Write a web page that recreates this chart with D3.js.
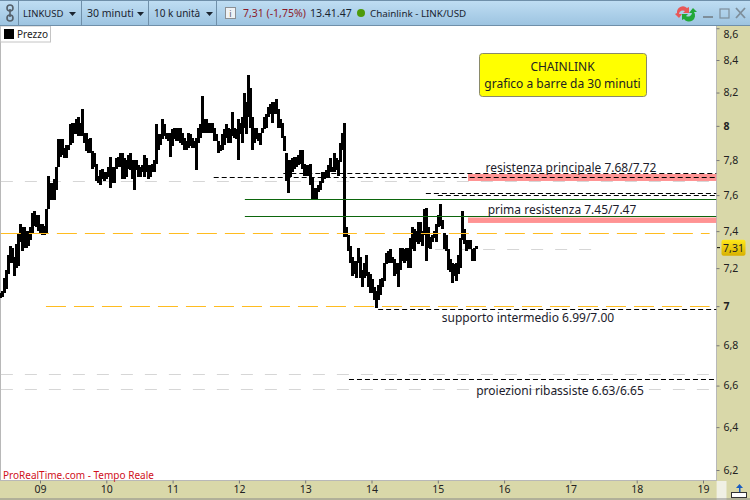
<!DOCTYPE html>
<html><head><meta charset="utf-8">
<style>html,body{margin:0;padding:0;background:#fff;overflow:hidden}svg{display:block}text{font-family:"Noto Sans","Open Sans",sans-serif}</style>
<script src="https://cdn.jsdelivr.net/npm/d3@7"></script></head><body>
<div id="c"></div>
<script>
const highs=[7.07,7.08,7.15,7.19,7.27,7.32,7.31,7.26,7.33,7.39,7.44,7.42,7.42,7.40,7.40,7.42,7.50,7.51,7.49,7.49,7.44,7.44,7.43,7.52,7.71,7.67,7.67,7.69,7.76,7.92,7.92,7.92,7.87,7.89,7.89,8.01,8.02,8.02,8.04,8.05,8.02,8.10,7.96,7.96,7.92,7.93,7.85,7.84,7.78,7.71,7.74,7.75,7.73,7.73,7.76,7.82,7.76,7.76,7.81,7.82,
7.84,7.84,7.81,7.80,7.83,7.84,7.80,7.80,7.80,7.77,7.76,7.77,7.83,7.81,7.77,7.77,7.78,7.80,8.01,7.95,7.95,8.04,8.01,7.96,7.96,7.96,7.98,7.99,7.99,7.99,7.99,7.96,7.93,7.91,7.96,7.95,7.93,7.91,7.93,7.99,8.01,8.18,8.04,8.04,8.02,8.02,8.02,7.99,7.95,7.91,7.89,7.95,7.98,8.01,7.99,7.98,8.08,7.99,7.98,8.04,
8.02,8.05,8.20,8.14,8.31,8.23,8.05,7.99,7.99,7.96,7.96,7.99,8.05,8.07,8.11,8.13,8.14,8.14,8.16,8.10,8.04,8.02,7.94,7.84,7.80,7.80,7.81,7.82,7.82,7.83,7.86,7.86,7.78,7.77,7.77,7.78,7.70,7.64,7.64,7.66,7.68,7.73,7.73,7.74,7.77,7.81,7.76,7.84,7.81,7.80,7.90,7.96,8.02,7.42,7.38,7.32,7.26,7.24,7.24,7.31,
7.26,7.19,7.23,7.27,7.18,7.17,7.14,7.10,7.08,7.11,7.14,7.15,7.23,7.28,7.29,7.30,7.26,7.25,7.23,7.23,7.31,7.31,7.30,7.31,7.31,7.36,7.42,7.41,7.40,7.45,7.45,7.40,7.52,7.53,7.42,7.37,7.38,7.40,7.44,7.49,7.55,7.46,7.39,7.38,7.30,7.25,7.23,7.22,7.23,7.27,7.36,7.51,7.41,7.35,7.35,7.35,7.30,7.31,7.32];
const lows=[7.04,7.05,7.07,7.09,7.17,7.23,7.23,7.16,7.20,7.21,7.34,7.29,7.31,7.31,7.32,7.35,7.39,7.43,7.42,7.40,7.39,7.38,7.38,7.39,7.52,7.57,7.57,7.57,7.63,7.76,7.82,7.83,7.81,7.81,7.86,7.89,7.90,7.95,7.95,7.94,7.94,7.94,7.90,7.85,7.84,7.84,7.75,7.76,7.68,7.67,7.66,7.69,7.68,7.69,7.70,7.64,7.67,7.67,7.75,7.76,
7.76,7.69,7.69,7.70,7.75,7.74,7.69,7.63,7.74,7.70,7.70,7.73,7.70,7.73,7.69,7.70,7.73,7.73,7.78,7.86,7.89,7.92,7.94,7.92,7.91,7.82,7.88,7.92,7.91,7.91,7.90,7.89,7.86,7.86,7.87,7.88,7.87,7.87,7.74,7.90,7.93,7.96,7.96,7.96,7.96,7.96,7.96,7.91,7.91,7.84,7.85,7.86,7.89,7.93,7.90,7.90,7.94,7.93,7.92,7.80,
7.95,7.90,7.99,7.95,8.05,7.99,7.86,7.90,7.92,7.91,7.89,7.96,7.98,7.99,8.05,8.07,8.02,8.07,8.07,7.99,7.99,7.93,7.85,7.68,7.61,7.70,7.73,7.75,7.76,7.77,7.78,7.75,7.71,7.71,7.71,7.66,7.57,7.58,7.57,7.62,7.63,7.67,7.69,7.70,7.70,7.73,7.73,7.73,7.74,7.71,7.79,7.86,7.37,7.37,7.29,7.23,7.16,7.17,7.15,7.23,
7.15,7.10,7.15,7.16,7.10,7.07,7.07,7.03,6.99,7.03,7.06,7.10,7.13,7.22,7.23,7.23,7.23,7.16,7.17,7.10,7.19,7.24,7.23,7.24,7.20,7.20,7.30,7.29,7.34,7.33,7.34,7.32,7.38,7.24,7.31,7.30,7.34,7.36,7.34,7.42,7.43,7.41,7.30,7.29,7.19,7.18,7.12,7.16,7.13,7.17,7.20,7.35,7.33,7.29,7.30,7.30,7.24,7.24,7.30];
const firstBarDay=8.404, barStepDays=0.03017;
const yTicks=[8.6,8.4,8.2,8,7.8,7.6,7.4,7.2,7,6.8,6.6,6.4,6.2];
const xTicks=[9,10,11,12,13,14,15,16,17,18,19];
const lastPrice=7.31;
const zones=[[7.68,7.72,15.455],[7.445,7.475,15.455]];
const greyPrices=[7.678,7.30,6.655,6.581], greyFrom=[8.41,14.96,8.41,8.41], greyTo=[19.1,17.37,19.1,19.1];
const greenPrices=[7.578,7.478], greenFrom=[12.09,12.09];
const blackPrices=[7.72,7.697,7.611,7.60,6.985,6.63], blackFrom=[12.67,11.62,14.82,15.0,14.10,13.66];
const orangePrices=[7.385,7.0], orangeFrom=[8.41,9.09];
const notes=[["resistenza principale 7.68/7.72",571,167],["prima resistenza 7.45/7.47",562,209],["supporto intermedio 6.99/7.00",528,317],["proiezioni ribassiste 6.63/6.65",560,390]];

const W=750,H=500,plotR=716.5,plotB=480.5,plotT=26;
const svg=d3.select("#c").append("svg").attr("width",W).attr("height",H);
const defs=svg.append("defs");
const g1=defs.append("linearGradient").attr("id","bar").attr("x1",0).attr("x2",0).attr("y1",0).attr("y2",1);
g1.append("stop").attr("offset",0).attr("stop-color","#c0def3");g1.append("stop").attr("offset",1).attr("stop-color","#9dc4e1");
const g2=defs.append("linearGradient").attr("id","tag").attr("x1",0).attr("x2",0).attr("y1",0).attr("y2",1);
g2.append("stop").attr("offset",0).attr("stop-color","#ffe81a");g2.append("stop").attr("offset",1).attr("stop-color","#d8b000");
defs.append("clipPath").attr("id","pl").append("rect").attr("x",0).attr("y",plotT).attr("width",plotR).attr("height",plotB-plotT);

const x=d3.scaleLinear().domain([9,19]).range([40,703]);
const y=d3.scaleLog().domain([6.2,8.4]).range([470,60]);
const snap=v=>Math.floor(v)+0.5;

// panels
svg.append("rect").attr("x",plotR).attr("y",26).attr("width",W-plotR).attr("height",H-26).attr("fill","#d9d8a9");
svg.append("rect").attr("x",0).attr("y",plotB).attr("width",plotR).attr("height",H-plotB).attr("fill","#d9d8a9");
svg.append("rect").attr("x",717).attr("y",481).attr("width",9.5).attr("height",19).attr("fill","#f0f0e4");
svg.append("line").attr("x1",0).attr("x2",717).attr("y1",480.5).attr("y2",480.5).attr("stroke","#b8b8b8");
svg.append("line").attr("x1",0).attr("x2",750).attr("y1",499).attr("y2",499).attr("stroke","#888");
svg.append("line").attr("x1",716.5).attr("x2",716.5).attr("y1",26).attr("y2",481).attr("stroke","#b8b8b8");
svg.append("line").attr("x1",0.5).attr("x2",0.5).attr("y1",26).attr("y2",481).attr("stroke","#b8b8b8");

const plot=svg.append("g").attr("clip-path","url(#pl)");
plot.selectAll("rect.zone").data(zones).join("rect").attr("class","zone")
 .attr("x",d=>x(d[2])).attr("width",d=>plotR-x(d[2])).attr("y",d=>y(d[1])).attr("height",d=>y(d[0])-y(d[1])).attr("fill","#ff9393");
function levels(prices,from,to,color,dash,w){
 plot.append("g").selectAll("line").data(prices).join("line")
  .attr("x1",(d,i)=>x(from[i])).attr("x2",(d,i)=>to?x(to[i]):plotR)
  .attr("y1",d=>snap(y(d))).attr("y2",d=>snap(y(d))).attr("stroke",color).attr("stroke-width",w||1)
  .attr("stroke-dasharray",dash);
}
levels(greyPrices,greyFrom,greyTo,"#d6d6d6","12,12");
levels(blackPrices,blackFrom,null,"#000","5,3");
plot.append("g").selectAll("line").data(highs).join("line")
 .attr("x1",(d,i)=>x(firstBarDay+i*barStepDays)).attr("x2",(d,i)=>x(firstBarDay+i*barStepDays))
 .attr("y1",d=>y(d)).attr("y2",(d,i)=>y(lows[i])).attr("stroke","#000").attr("stroke-width",3).attr("shape-rendering","crispEdges");
levels(greenPrices,greenFrom,null,"#0c660c");
levels(orangePrices,orangeFrom,[19.1,19.1],"#ffbc20","20,8");

// notes
plot.selectAll("text.n").data(notes).join("text").attr("class","n").attr("x",d=>d[1]).attr("y",d=>d[2]+4.5)
 .attr("text-anchor","middle").attr("font-size",12).attr("fill","#1c1c2c").text(d=>d[0]);
svg.append("rect").attr("x",479.5).attr("y",53.5).attr("width",167).attr("height",43).attr("rx",3).attr("fill","#ffff00").attr("stroke","#8a8a6a");
svg.append("text").attr("x",562.5).attr("y",71).attr("text-anchor","middle").attr("font-size",12).attr("fill","#222").text("CHAINLINK");
svg.append("text").attr("x",562.5).attr("y",87.5).attr("text-anchor","middle").attr("font-size",12).attr("fill","#222").text("grafico a barre da 30 minuti");

// legend and source
svg.append("rect").attr("x",0.5).attr("y",26).attr("width",50).attr("height",16).attr("fill","#fff").attr("stroke","#c4c4c4");
svg.append("rect").attr("x",4).attr("y",29).attr("width",10).attr("height",10).attr("fill","#000");
svg.append("text").attr("x",17).attr("y",38).attr("font-size",10).attr("fill","#222").text("Prezzo");
svg.append("text").attr("x",3).attr("y",479).attr("font-size",10).attr("fill","#d0101c").text("ProRealTime.com - Tempo Reale");

// axes
const ay=svg.append("g").attr("transform",`translate(${plotR},0)`).call(d3.axisRight(y).tickValues(yTicks).tickSize(3).tickPadding(4).tickFormat(d=>String(d).replace(".",",")));
ay.select(".domain").remove();
ay.selectAll("line").attr("stroke","#777");
ay.selectAll("text").attr("font-size",10.5).attr("fill","#222").attr("font-weight",d=>(d===8||d===7)?"bold":null);
ay.selectAll(".tick").filter(d=>d===8.6).select("text").attr("dy","0.9em");
const ax=svg.append("g").attr("transform",`translate(0,${plotB})`).call(d3.axisBottom(x).tickValues(xTicks).tickSize(3).tickPadding(2).tickFormat(d3.format("02d")));
ax.select(".domain").remove();
ax.selectAll("line").attr("stroke","#777");
ax.selectAll("text").attr("font-size",10.5).attr("fill","#222");

// current price tag
svg.append("line").attr("x1",717).attr("x2",720).attr("y1",y(lastPrice)).attr("y2",y(lastPrice)).attr("stroke","#000");
svg.append("rect").attr("x",721.5).attr("y",y(lastPrice)-8).attr("width",24).attr("height",16).attr("rx",2).attr("fill","url(#tag)");
svg.append("text").attr("x",733.5).attr("y",y(lastPrice)+4).attr("text-anchor","middle").attr("font-size",10.5).attr("fill","#222").text(String(lastPrice).replace(".",","));

// toolbar
svg.append("rect").attr("width",W).attr("height",25).attr("fill","url(#bar)");
svg.append("line").attr("x1",0).attr("x2",W).attr("y1",25.5).attr("y2",25.5).attr("stroke","#6f8fa9");
svg.append("line").attr("x1",0).attr("x2",W).attr("y1",0.5).attr("y2",0.5).attr("stroke","#6f8fa9");
[18.5,81.5,148.5,216.5].forEach(s=>svg.append("line").attr("x1",s).attr("x2",s).attr("y1",1).attr("y2",25).attr("stroke","#6f8fa9"));
const tb=(t,xx,o)=>svg.append("text").attr("x",xx).attr("y",17).attr("font-size",(o&&o.s)||10.5).attr("fill",(o&&o.c)||"#1a2430").text(t);
tb("LINKUSD",23,{s:9.5});tb("30 minuti",87);tb("10 k unità",154,{s:10});
tb("7,31 (-1,75%)",243,{c:"#8c1a2a"});tb("13.41.47",310);tb("Chainlink - LINK/USD",370,{s:9.8});
[[69,76],[137,144],[206,213]].forEach(a=>svg.append("path").attr("d",`M${a[0]} 12H${a[1]}L${(a[0]+a[1])/2} 16Z`).attr("fill","#1a2430"));
svg.append("circle").attr("cx",10).attr("cy",8).attr("r",3).attr("fill","none").attr("stroke","#55606a").attr("stroke-width",1.6);
svg.append("circle").attr("cx",10).attr("cy",18).attr("r",3).attr("fill","none").attr("stroke","#55606a").attr("stroke-width",1.6);
svg.append("line").attr("x1",10).attr("x2",10).attr("y1",9).attr("y2",17).attr("stroke","#55606a").attr("stroke-width",1.6);
svg.append("rect").attr("x",225.5).attr("y",7.5).attr("width",10).attr("height",11).attr("fill","#eef2f5").attr("stroke","#8a8f94");
svg.append("text").attr("x",230.5).attr("y",17).attr("text-anchor","middle").attr("font-size",9).attr("fill","#666").text("i");
svg.append("circle").attr("cx",361).attr("cy",13).attr("r",4).attr("fill","#4e9a0a");
svg.append("path").attr("d","M677 13a6 6 0 0 1 10-5l2-1v6h-6l2-2a4 4 0 0 0-6 3l3 0-3 4-4-4z").attr("fill","#e85858");
svg.append("path").attr("d","M694 12a6 6 0 0 1-10 7l-2 1v-6h6l-2 2a4 4 0 0 0 6-3l-3 0 4-5 4 4z").attr("fill","#22a838");
svg.append("rect").attr("x",703).attr("y",16).attr("width",10).attr("height",2).attr("fill","#7e8e9a");
svg.append("rect").attr("x",720).attr("y",9).attr("width",9).attr("height",9).attr("fill","none").attr("stroke","#7e8e9a").attr("stroke-width",1.2);
svg.append("path").attr("d","M736 8L745 18M745 8L736 18").attr("stroke","#7e8e9a").attr("stroke-width",1.8);
// corner icon
svg.append("path").attr("d","M739 494V488H736L739.5 484L743 488H740.5V494Z").attr("fill","#1a5cc0");
svg.append("rect").attr("x",731.5).attr("y",492.5).attr("width",15).attr("height",5).attr("fill","#fff").attr("stroke","#333");
</script></body></html>
